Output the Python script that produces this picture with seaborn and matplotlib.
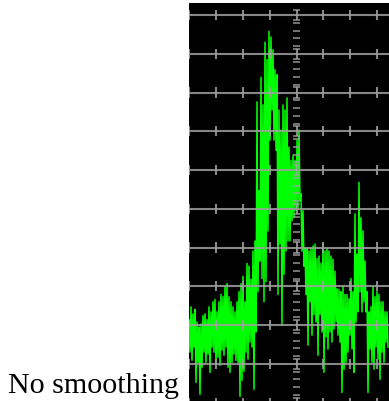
import numpy as np
import pandas as pd
import seaborn as sns
from matplotlib import pyplot as plt

# spectrum trace: per display column the top and bottom of the trace (dB)
peak_db = [-78.6, -75.3, -77.1, -76.0, -79.2, -80.5, -79.7, -77.6, -77.1, -78.6,
           -75.3, -76.6, -74.0, -73.4, -76.6, -74.0, -72.1, -72.7, -70.1, -69.3,
           -72.7, -74.0, -75.3, -76.6, -74.0, -71.4, -69.3, -67.4, -74.0, -64.1,
           -64.8, -68.2, -60.9, -58.3, -22.4, -45.3, -16.1, -23.2, -7.0, -11.5,
           -4.2, -5.7, -8.9, -14.1, -15.4, -24.5, -29.7, -23.2, -24.5, -21.4,
           -34.1, -37.5, -36.2, -37.5, -32.3, -29.7, -46.1, -50.5, -60.2, -60.2,
           -60.9, -60.2, -59.6, -59.1, -62.8, -62.2, -64.1, -58.9, -60.9, -60.2,
           -60.9, -62.2, -63.0, -66.1, -70.6, -70.8, -71.4, -70.1, -72.1, -72.1,
           -73.2, -68.0, -71.4, -51.3, -61.7, -43.2, -52.3, -55.7, -63.5, -71.4,
           -76.6, -75.3, -70.1, -72.7, -71.4, -72.1, -74.0, -74.0, -76.6, -76.6]
trough_db = [-87.0, -89.1, -85.7, -94.8, -89.6, -97.9, -90.9, -87.0, -89.6, -87.5,
             -92.2, -85.7, -87.0, -90.1, -88.3, -90.4, -86.5, -87.8, -85.7, -90.9,
             -92.2, -89.6, -87.5, -89.1, -89.6, -98.4, -94.3, -91.9, -87.0, -88.8,
             -84.4, -85.7, -96.6, -81.8, -71.4, -63.5, -68.0, -74.0, -68.8, -55.7,
             -32.3, -24.5, -32.3, -34.9, -72.1, -59.1, -80.0, -66.9, -60.9, -58.3,
             -58.3, -53.1, -52.3, -50.5, -49.7, -47.9, -60.9, -64.8, -72.1, -85.2,
             -74.0, -82.6, -77.3, -79.2, -87.8, -77.3, -81.8, -92.2, -83.1, -86.2,
             -81.8, -84.4, -81.0, -79.2, -82.6, -84.4, -97.4, -91.4, -89.6, -87.0,
             -82.6, -86.2, -92.2, -79.2, -76.6, -71.4, -76.6, -74.0, -76.6, -97.4,
             -86.2, -89.6, -91.4, -85.7, -88.8, -94.0, -87.0, -89.6, -84.4, -85.7]
grid_db = [0, -10, -20, -30, -40, -50, -60, -70, -80, -90, -100]
caption = "No smoothing"

level = np.column_stack([peak_db, trough_db]).ravel()
df = pd.DataFrame({"bin": np.arange(len(level)), "level": level})

W, H = 389, 402
fig = plt.figure(figsize=(W / 100, H / 100), dpi=100)
fig.patch.set_facecolor("white")

ax = fig.add_axes([188.5 / W, 0, (W - 188.5) / W, 398 / H])
ax.set_facecolor("black")

sns.lineplot(data=df, x="bin", y="level", estimator=None, sort=False,
             color="#00ff00", linewidth=1.1, ax=ax, zorder=2)

# graticule
div = 26.86
centre = 107.5
xdivs = [centre + div * m for m in range(-4, 4)]
gcol = "#a0a0a0"
for g in grid_db:
    ax.axhline(g, color=gcol, lw=1.5, alpha=0.85, zorder=3)
    ax.vlines(xdivs, g - 1.3, g + 1.3, color=gcol, lw=1.5, alpha=0.85, zorder=3)
    # serifs of the I marks on the centre line
    ax.hlines([g - 1.3, g + 1.3], centre - 3.5, centre + 3.5, color=gcol, lw=1.2, alpha=0.85, zorder=3)
minor = [g - k * 2 for g in grid_db for k in range(1, 5)]
ax.hlines(minor, centre - 3.5, centre + 3.5, color=gcol, lw=1.2, alpha=0.85, zorder=3)

ax.set_xlim(-0.5, 200)
ax.set_ylim(-99.6, 3.1)
ax.set_xticks([])
ax.set_yticks([])
ax.set_xlabel("")
ax.set_ylabel("")
for s in ax.spines.values():
    s.set_visible(False)

fig.text(8 / W, (H - 393) / H, caption, family="Liberation Serif", fontsize=21.6,
         va="baseline", ha="left", color="black")

fig.savefig("out.png", dpi=100, facecolor="white")
